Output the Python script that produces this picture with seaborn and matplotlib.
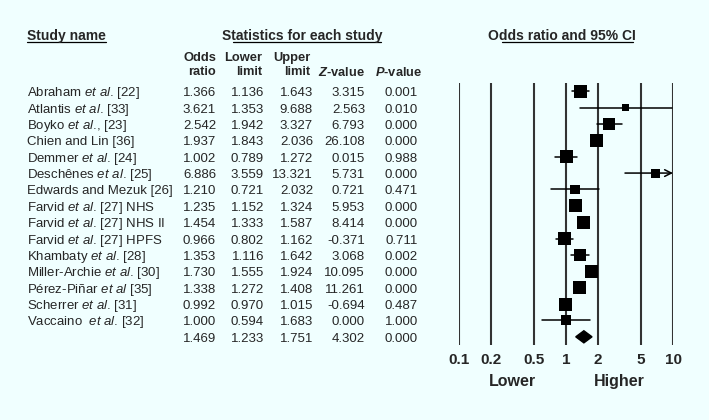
"""
Forest plot: odds ratio and 95% CI for each study, with the statistics table on the left.
"""

import numpy as np
import pandas as pd
import matplotlib
matplotlib.use("Agg")
import matplotlib.pyplot as plt
from matplotlib.lines import Line2D
import seaborn as sns

W, H = 709, 420
BG = "#F0FFFF"

studies = [
    r"Abraham $\mathit{et\ al}$. [22]",
    r"Atlantis $\mathit{et\ al}$. [33]",
    r"Boyko $\mathit{et\ al}$., [23]",
    r"Chien and Lin [36]",
    r"Demmer $\mathit{et\ al}$. [24]",
    r"Deschênes $\mathit{et\ al}$. [25]",
    r"Edwards and Mezuk [26]",
    r"Farvid $\mathit{et\ al}$. [27] NHS",
    r"Farvid $\mathit{et\ al}$. [27] NHS II",
    r"Farvid $\mathit{et\ al}$. [27] HPFS",
    r"Khambaty $\mathit{et\ al}$. [28]",
    r"Miller-Archie $\mathit{et\ al}$. [30]",
    r"Pérez-Piñar $\mathit{et\ al}$ [35]",
    r"Scherrer $\mathit{et\ al}$. [31]",
    r"Vaccaino  $\mathit{et\ al}$. [32]",
]
odds_ratio = [1.366, 3.621, 2.542, 1.937, 1.002, 6.886, 1.210, 1.235, 1.454, 0.966, 1.353, 1.730, 1.338, 0.992, 1.000]
lower = [1.136, 1.353, 1.942, 1.843, 0.789, 3.559, 0.721, 1.152, 1.333, 0.802, 1.116, 1.555, 1.272, 0.970, 0.594]
upper = [1.643, 9.688, 3.327, 2.036, 1.272, 13.321, 2.032, 1.324, 1.587, 1.162, 1.642, 1.924, 1.408, 1.015, 1.683]
z_value = [3.315, 2.563, 6.793, 26.108, 0.015, 5.731, 0.721, 5.953, 8.414, -0.371, 3.068, 10.095, 11.261, -0.694, 0.000]
p_value = [0.001, 0.010, 0.000, 0.000, 0.988, 0.000, 0.471, 0.000, 0.000, 0.711, 0.002, 0.000, 0.000, 0.487, 1.000]
# relative study weight, read as the box side (px)
box_side = [13, 7, 12, 13, 13, 9, 9.5, 13, 13, 13, 12, 13, 13, 13, 10]

summary = dict(odds_ratio=1.469, lower=1.233, upper=1.751, z_value=4.302, p_value=0.000)

x_ticks = [0.1, 0.2, 0.5, 1, 2, 5, 10]
x_ticklabels = ["0.1", "0.2", "0.5", "1", "2", "5", "10"]

df = pd.DataFrame({"study": studies, "or": odds_ratio, "lo": lower, "hi": upper,
                   "z": z_value, "p": p_value, "side": box_side})
df["row"] = np.arange(len(df))
# marker area in pt^2 from box side in px
df["area"] = (df["side"] * 72 / 100) ** 2

sns.set_theme(style="white")
plt.rcParams["font.family"] = ["Liberation Sans", "DejaVu Sans"]
plt.rcParams["mathtext.fontset"] = "custom"
plt.rcParams["mathtext.rm"] = "Liberation Sans"
plt.rcParams["mathtext.it"] = "Liberation Sans:italic"
plt.rcParams["mathtext.bf"] = "Liberation Sans:bold"
plt.rcParams["mathtext.bfit"] = "Liberation Sans:bold:italic"

fig = plt.figure(figsize=(W / 100, H / 100), dpi=100, facecolor=BG)


def fx(x):
    return x / W


def fy(y):
    return 1 - y / H


top_px, bot_px = 83, 345
n_rows = len(df) + 1
ylim = (n_rows - 0.5, -0.5)

# forest axes
ax = fig.add_axes([fx(459), fy(bot_px), fx(673 - 459), (bot_px - top_px) / H])
ax.set_facecolor(BG)
ax.set_xscale("log")
ax.set_xlim(0.1, 10)
ax.set_ylim(*ylim)
for t in x_ticks:
    ax.axvline(t, color="#333333", lw=1.5, zorder=1)

for _, r in df.iterrows():
    if r["hi"] > 10:
        ax.annotate("", xy=(10, r["row"]), xytext=(r["lo"], r["row"]),
                    arrowprops=dict(arrowstyle="->", color="black", lw=1.1,
                                    shrinkA=0, shrinkB=0, mutation_scale=12),
                    zorder=2, annotation_clip=False)
    else:
        ax.plot([r["lo"], r["hi"]], [r["row"], r["row"]], color="black", lw=1.1,
                zorder=2, clip_on=False)

sns.scatterplot(data=df, x="or", y="row", size="area",
                sizes=(df["area"].min(), df["area"].max()),
                marker="s", color="black", edgecolor="black", linewidth=0,
                legend=False, ax=ax, zorder=3, clip_on=False)

# summary diamond
srow = len(df)
h = 0.37
ax.fill([summary["lower"], summary["odds_ratio"], summary["upper"], summary["odds_ratio"]],
        [srow, srow - h, srow, srow + h], color="black", zorder=3)

ax.set_xticks(x_ticks)
ax.set_xticklabels(x_ticklabels, fontsize=11, fontweight="bold")
ax.minorticks_off()
ax.tick_params(axis="x", length=0, pad=6)
ax.set_yticks([])
ax.set_xlabel("")
ax.set_ylabel("")
sns.despine(ax=ax, left=True, bottom=True)
ax.text(np.sqrt(0.1), -0.14, "Lower", transform=ax.get_xaxis_transform(),
        ha="center", va="center", fontsize=11.5, fontweight="bold")
ax.text(np.sqrt(10), -0.14, "Higher", transform=ax.get_xaxis_transform(),
        ha="center", va="center", fontsize=11.5, fontweight="bold")

# table axes sharing the row scale
at = fig.add_axes([0, fy(bot_px), fx(440), (bot_px - top_px) / H])
at.set_xlim(0, 440)
at.set_ylim(*ylim)
at.axis("off")

fs = 9.5
col_x = {"or": 216, "lo": 264, "hi": 313, "z": 365, "p": 418}
for _, r in df.iterrows():
    y = r["row"] + 0.12
    at.text(27, y, r["study"], ha="left", va="center", fontsize=fs)
    for c in ["or", "lo", "hi", "z", "p"]:
        at.text(col_x[c], y, f"{r[c]:.3f}", ha="right", va="center", fontsize=fs)
for c, key in [("or", "odds_ratio"), ("lo", "lower"), ("hi", "upper"), ("z", "z_value"), ("p", "p_value")]:
    at.text(col_x[c], srow + 0.12, f"{summary[key]:.3f}", ha="right", va="center", fontsize=fs)

# headers
hfs = 10
fig.text(fx(27), fy(36), "Study name", ha="left", va="center", fontsize=hfs, fontweight="bold")
fig.text(fx(302), fy(36), "Statistics for each study", ha="center", va="center", fontsize=hfs, fontweight="bold")
fig.text(fx(562), fy(36), "Odds ratio and 95% CI", ha="center", va="center", fontsize=hfs, fontweight="bold")
for x0, x1 in [(27, 106), (233, 381), (502, 633)]:
    fig.add_artist(Line2D([fx(x0), fx(x1)], [fy(42), fy(42)], color="black", lw=0.9,
                          transform=fig.transFigure))

cfs = 9.3
fig.text(fx(216), fy(58), "Odds", ha="right", va="center", fontsize=cfs, fontweight="bold")
fig.text(fx(216), fy(72), "ratio", ha="right", va="center", fontsize=cfs, fontweight="bold")
fig.text(fx(262), fy(58), "Lower", ha="right", va="center", fontsize=cfs, fontweight="bold")
fig.text(fx(262), fy(72), "limit", ha="right", va="center", fontsize=cfs, fontweight="bold")
fig.text(fx(310), fy(58), "Upper", ha="right", va="center", fontsize=cfs, fontweight="bold")
fig.text(fx(310), fy(72), "limit", ha="right", va="center", fontsize=cfs, fontweight="bold")
fig.text(fx(365), fy(72), r"$\mathbfit{Z}$-value", ha="right", va="center", fontsize=cfs, fontweight="bold")
fig.text(fx(422), fy(72), r"$\mathbfit{P}$-value", ha="right", va="center", fontsize=cfs, fontweight="bold")

fig.savefig("out.png", dpi=100, facecolor=BG)
